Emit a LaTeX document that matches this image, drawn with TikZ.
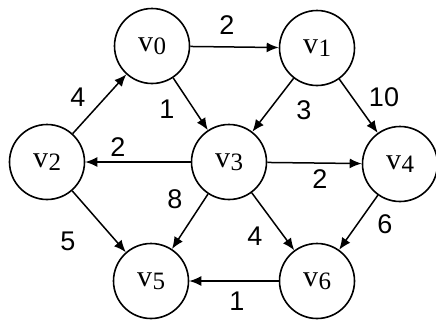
\documentclass[tikz,border=0pt]{standalone}
\usepackage{fontspec}
\setmainfont{Liberation Serif}
\setsansfont{Liberation Sans}
\usetikzlibrary{arrows.meta}
\newcommand{\vx}[1]{\fontsize{30}{30}\selectfont v\kern0.5pt\raisebox{-3pt}{\fontsize{25}{25}\selectfont #1}}
\begin{document}
\begin{tikzpicture}[x=1pt,y=-1pt,
  vert/.style={circle,draw,line width=1.6pt,minimum size=75pt,inner sep=0pt},
  arc/.style={line width=1.5pt,-{Latex[length=12pt,width=10pt]}},
  wt/.style={font=\sffamily\fontsize{27}{27}\selectfont,inner sep=0pt}]
\fill[white] (0,0) rectangle (436,322);
\useasboundingbox (0,0) rectangle (436,322);
\node[vert] (v0) at (152,46) {\vx{0}};
\node[vert] (v1) at (317,48) {\vx{1}};
\node[vert] (v2) at (47,162) {\vx{2}};
\node[vert] (v3) at (229,162) {\vx{3}};
\node[vert] (v4) at (400,164) {\vx{4}};
\node[vert] (v5) at (151,281) {\vx{5}};
\node[vert] (v6) at (317,281) {\vx{6}};
\draw[arc] (v0) -- (v1);
\draw[arc] (v2) -- (v0);
\draw[arc] (v0) -- (v3);
\draw[arc] (v1) -- (v3);
\draw[arc] (v1) -- (v4);
\draw[arc] (v3) -- (v2);
\draw[arc] (v3) -- (v4);
\draw[arc] (v3) -- (v5);
\draw[arc] (v3) -- (v6);
\draw[arc] (v4) -- (v6);
\draw[arc] (v2) -- (v5);
\draw[arc] (v6) -- (v5);
\node[wt] (w01) at (227,25) {2};
\node[wt] (w20) at (78,97) {4};
\node[wt] (w03) at (167,109) {1};
\node[wt] (w13) at (304,110) {3};
\node[wt] (w14) at (384,97) {10};
\node[wt] (w32) at (118,147) {2};
\node[wt] (w34) at (320,179) {2};
\node[wt] (w35) at (175,199) {8};
\node[wt] (w25) at (68,241) {5};
\node[wt] (w36) at (255,236) {4};
\node[wt] (w46) at (385,224) {6};
\node[wt] (w65) at (237,301) {1};
\end{tikzpicture}
\end{document}
